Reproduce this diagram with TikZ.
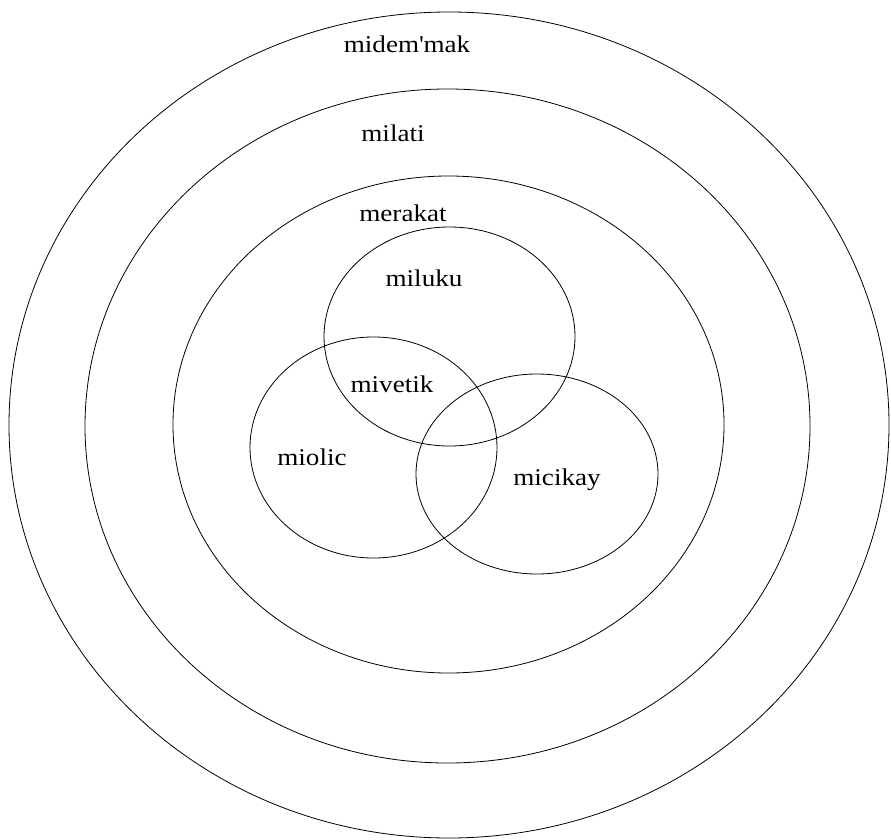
\documentclass[tikz,border=0pt]{standalone}
\usepackage{fontspec}
\setmainfont[FakeStretch=1.13]{Liberation Serif}
\begin{document}
\begin{tikzpicture}[
      x=1pt, y=-1pt,
      every node/.style={font=\fontsize{24}{28}\selectfont, anchor=base},
      ring/.style={draw, line width=0.8pt},
      set/.style={draw, line width=0.8pt}
    ]
    \useasboundingbox (0,0) rectangle (891,840);

    % Aneis concentricos
    \draw[ring] (449,425) ellipse [x radius=440, y radius=413];
    \draw[ring] (447.5,426) ellipse [x radius=362.5, y radius=337];
    \draw[ring] (448.5,424.5) ellipse [x radius=275.5, y radius=248.5];

    % Tres conjuntos
    \draw[set] (449.5,336.5) ellipse [x radius=125.5, y radius=109.5];
    \draw[set] (373.5,447.5) ellipse [x radius=123.5, y radius=110.5];
    \draw[set] (537,474) ellipse [x radius=121, y radius=100];

    % Rotulos
    \node (midemmak) at (407,53) {midem\textquotesingle mak};
    \node (milati) at (393,142) {milati};
    \node (merakat) at (403,221) {merakat};
    \node (miluku) at (424,286) {miluku};
    \node (mivetik) at (392,392) {mivetik};
    \node (miolic) at (312,465) {miolic};
    \node (micikay) at (557,485) {micikay};
  \end{tikzpicture}
\end{document}
